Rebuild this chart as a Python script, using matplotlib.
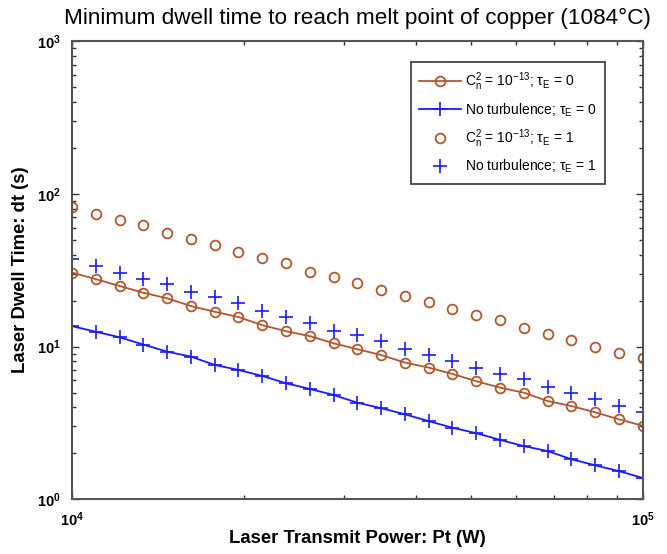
import numpy as np
import matplotlib
matplotlib.use('Agg')
import matplotlib.pyplot as plt
from matplotlib.ticker import FixedLocator, LogLocator, NullFormatter

plt.rcParams['font.family'] = ['Liberation Sans', 'DejaVu Sans']
plt.rcParams['mathtext.fontset'] = 'custom'
plt.rcParams['mathtext.rm'] = 'Liberation Sans'
plt.rcParams['mathtext.it'] = 'Liberation Sans:italic'
plt.rcParams['mathtext.bf'] = 'Liberation Sans:bold'

# transmit power (W)
power = [10000, 11007, 12115, 13335, 14678, 16156, 17783, 19573, 21544, 23714,
         26102, 28730, 31623, 34807, 38312, 42170, 46416, 51090, 56234, 61897,
         68129, 74989, 82540, 90852, 100000]

# dwell times (s)
turb_tau0 = [30.5, 27.6, 24.9, 22.5, 20.7, 18.4, 16.9, 15.6, 13.8, 12.6, 11.7, 10.5, 9.6,
             8.8, 7.85, 7.28, 6.62, 5.93, 5.38, 4.99, 4.40, 4.08, 3.71, 3.34, 3.03]
noturb_tau0 = [13.6, 12.5, 11.5, 10.3, 9.26, 8.59, 7.58, 7.03, 6.42, 5.75, 5.28, 4.82, 4.29,
               3.95, 3.60, 3.25, 2.94, 2.71, 2.45, 2.23, 2.07, 1.83, 1.67, 1.53, 1.38]
turb_tau1 = [82.5, 73.9, 67.4, 62.5, 55.2, 50.7, 46.3, 41.7, 37.7, 35.1, 30.8, 28.7, 26.0,
             23.5, 21.5, 19.7, 17.6, 16.0, 14.9, 13.2, 12.1, 11.1, 9.94, 9.04, 8.38]
noturb_tau1 = [37.3, 33.9, 30.5, 27.7, 25.6, 22.7, 21.0, 19.2, 17.1, 15.6, 14.3, 12.7, 11.9,
               10.8, 9.64, 8.81, 8.09, 7.28, 6.62, 6.14, 5.41, 4.99, 4.54, 4.10, 3.71]

labels = [r'$\mathrm{C_n^2}$ = $\mathrm{10^{-13}}$; $\mathrm{\tau_E}$ = 0',
          r'No turbulence; $\mathrm{\tau_E}$ = 0',
          r'$\mathrm{C_n^2}$ = $\mathrm{10^{-13}}$; $\mathrm{\tau_E}$ = 1',
          r'No turbulence; $\mathrm{\tau_E}$ = 1']

brown = '#b5552e'
blue = '#1a1aff'

fig = plt.figure(figsize=(6.67, 5.54), dpi=100)
ax = fig.add_axes([0.108, 0.0987, 0.8556, 0.8273])

ax.plot(power, turb_tau0, '-o', color=brown, mfc='none', mec=brown, ms=7, mew=1.3, lw=1.3,
        label=labels[0])
ax.plot(power, noturb_tau0, '-+', color=blue, ms=10, mew=1.2, lw=1.3, label=labels[1])
ax.plot(power, turb_tau1, 'o', color=brown, mfc='none', mec=brown, ms=7, mew=1.3,
        label=labels[2])
ax.plot(power, noturb_tau1, '+', color=blue, ms=10, mew=1.2, label=labels[3])

ax.set_xscale('log')
ax.set_yscale('log')
ax.set_xlim(1e4, 1e5)
ax.set_ylim(1e0, 1e3)

ax.xaxis.set_major_locator(FixedLocator([1e4, 1e5]))
ax.xaxis.set_minor_locator(LogLocator(base=10, subs=np.arange(2, 10)))
ax.xaxis.set_minor_formatter(NullFormatter())
ax.set_xticklabels([r'$\mathbf{10^{4}}$', r'$\mathbf{10^{5}}$'])
ax.yaxis.set_major_locator(FixedLocator([1e0, 1e1, 1e2, 1e3]))
ax.yaxis.set_minor_locator(LogLocator(base=10, subs=np.arange(2, 10)))
ax.yaxis.set_minor_formatter(NullFormatter())
ax.set_yticklabels([r'$\mathbf{10^{0}}$', r'$\mathbf{10^{1}}$', r'$\mathbf{10^{2}}$',
                    r'$\mathbf{10^{3}}$'])

ax.tick_params(which='both', direction='in', top=True, right=True, colors='#333333',
               labelcolor='black', labelsize=10.5)
ax.tick_params(which='major', length=5, width=1)
ax.tick_params(which='minor', length=3, width=1)
ax.tick_params(axis='x', pad=8)
ax.tick_params(axis='y', pad=8)
for s in ax.spines.values():
    s.set_color('#555555')
    s.set_linewidth(1.5)

ax.set_title('Minimum dwell time to reach melt point of copper (1084\u00b0C)',
             fontsize=16.2, pad=12)
ax.set_xlabel('Laser Transmit Power: Pt (W)', fontsize=13.3, fontweight='bold', labelpad=1)
ax.set_ylabel('Laser Dwell Time: dt (s)', fontsize=13.3, fontweight='bold', labelpad=6)

leg = ax.legend(loc='upper right', bbox_to_anchor=(0.934, 0.954), borderaxespad=0,
                fontsize=10, fancybox=False, edgecolor='#444444', framealpha=1,
                handlelength=3.0, handletextpad=0.3, borderpad=0.6, labelspacing=0.6)
leg.get_frame().set_linewidth(1.3)

fig.savefig('out.png', dpi=100)
